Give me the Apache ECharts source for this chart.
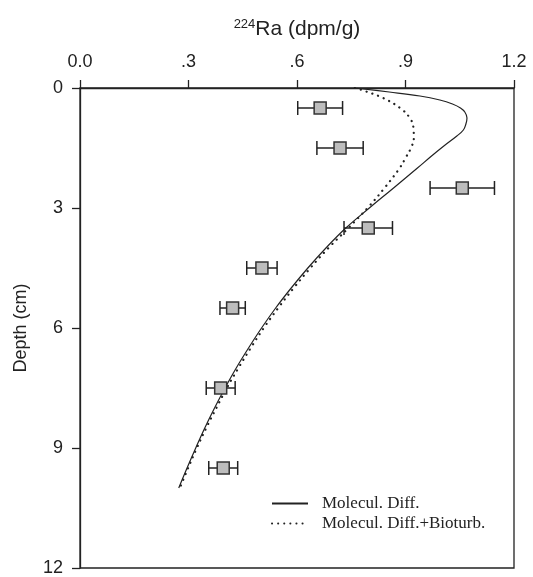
<!DOCTYPE html>
<html>
<head>
<meta charset="utf-8">
<script src="https://cdn.jsdelivr.net/npm/echarts@6/dist/echarts.min.js"></script>
<style>
  html, body { margin: 0; padding: 0; background: #fff; }
  #chart { width: 533px; height: 577px; }
</style>
</head>
<body>
<div id="chart"></div>
<script>
// measured 224Ra activity (dpm/g) at depth (cm)
var depths = [0.5, 1.5, 2.5, 3.5, 4.5, 5.5, 7.5, 9.5];
var ra224 = [0.664, 0.719, 1.057, 0.797, 0.503, 0.422, 0.389, 0.396];
var raErr = [0.062, 0.064, 0.089, 0.067, 0.042, 0.035, 0.040, 0.040];

// model curves
var diffDepth = [0, 0.1, 0.2, 0.3, 0.4, 0.5, 0.6, 0.75, 0.9, 1.05, 1.2, 1.45, 1.7, 2.0, 2.5, 3.0, 3.5, 4.0, 4.5, 5.0, 5.5, 6.0, 6.5, 7.0, 7.5, 8.0, 8.5, 9.0, 9.5, 10];
var diffVal = [0.76, 0.855, 0.94, 0.995, 1.03, 1.052, 1.064, 1.07, 1.067, 1.06, 1.042, 1.006, 0.972, 0.933, 0.867, 0.8, 0.735, 0.68, 0.63, 0.584, 0.541, 0.502, 0.466, 0.432, 0.401, 0.372, 0.345, 0.32, 0.296, 0.273];

var bioDepth = [0, 0.05, 0.25, 0.5, 0.75, 1.0, 1.25, 1.5, 1.75, 2.0, 2.5, 3.0, 3.5, 4.0, 4.5, 5.0, 5.5, 6.0, 6.5, 7.0, 7.5, 8.0, 8.5, 9.0, 9.5, 10];
var bioVal = [0.76, 0.779, 0.838, 0.885, 0.912, 0.922, 0.923, 0.915, 0.9, 0.884, 0.842, 0.795, 0.742, 0.687, 0.637, 0.591, 0.548, 0.508, 0.472, 0.438, 0.406, 0.377, 0.349, 0.323, 0.299, 0.276];

var xTicks = ['0.0', '.3', '.6', '.9', '1.2'];

function pairs(xs, ys) {
  return xs.map(function (x, i) { return [x, ys[i]]; });
}

var ink = '#222';
var chart = echarts.init(document.getElementById('chart'));

var option = {
  backgroundColor: '#fff',
  animation: false,
  grid: {
    left: 80, right: 19, top: 88, bottom: 4,
    show: true, borderColor: ink, borderWidth: 1.3
  },
  legend: {
    orient: 'vertical',
    left: 266, top: 490,
    itemWidth: 36, itemHeight: 14, itemGap: 3,
    data: ['Molecul. Diff.', 'Molecul. Diff.+Bioturb.'],
    itemStyle: { color: 'transparent', borderColor: 'transparent', borderWidth: 0, opacity: 0 },
    textStyle: { fontFamily: 'Liberation Serif', fontSize: 17, color: ink, padding: [0, 0, 0, 9] },
    selectedMode: false
  },
  xAxis: {
    type: 'value', position: 'top',
    min: 0, max: 1.2, interval: 0.3,
    name: '{sup|224}Ra (dpm/g)',
    nameLocation: 'middle', nameGap: 47,
    nameTextStyle: {
      fontFamily: 'Liberation Sans', fontSize: 21, color: ink,
      rich: { sup: { fontFamily: 'Liberation Sans', fontSize: 13, verticalAlign: 'top', padding: [0, 0, 10, 0], color: ink } }
    },
    axisLine: { lineStyle: { color: ink, width: 1.3 } },
    axisTick: { length: 8, lineStyle: { color: ink, width: 1.3 } },
    axisLabel: {
      margin: 17, fontFamily: 'Liberation Sans', fontSize: 18, color: ink,
      formatter: function (v) { return xTicks[Math.round(v / 0.3)]; }
    },
    splitLine: { show: false }
  },
  yAxis: {
    type: 'value', inverse: true,
    min: 0, max: 12, interval: 3,
    name: 'Depth (cm)',
    nameLocation: 'middle', nameGap: 50,
    nameTextStyle: { fontFamily: 'Liberation Sans', fontSize: 18, color: ink },
    axisLine: { lineStyle: { color: ink, width: 1.3 } },
    axisTick: { length: 8, lineStyle: { color: ink, width: 1.3 } },
    axisLabel: { margin: 17, fontFamily: 'Liberation Sans', fontSize: 18, color: ink },
    splitLine: { show: false }
  },
  series: [
    {
      name: 'Molecul. Diff.',
      type: 'line',
      data: pairs(diffVal, diffDepth),
      symbol: 'none', smooth: 0.4,
      lineStyle: { color: ink, width: 1.2 },
      itemStyle: { color: ink }
    },
    {
      name: 'Molecul. Diff.+Bioturb.',
      type: 'line',
      data: pairs(bioVal, bioDepth),
      symbol: 'none', smooth: 0.4,
      lineStyle: { color: ink, width: 2.2, type: [0.1, 6], cap: 'round' },
      itemStyle: { color: ink }
    },
    {
      type: 'custom',
      data: depths.map(function (d, i) { return [ra224[i], d, raErr[i]]; }),
      renderItem: function (params, api) {
        var v = api.value(0), d = api.value(1), e = api.value(2);
        var a = api.coord([v - e, d]);
        var b = api.coord([v + e, d]);
        var h = 7;
        var st = { stroke: ink, lineWidth: 1.5 };
        return {
          type: 'group',
          children: [
            { type: 'line', shape: { x1: a[0], y1: a[1], x2: b[0], y2: b[1] }, style: st },
            { type: 'line', shape: { x1: a[0], y1: a[1] - h, x2: a[0], y2: a[1] + h }, style: st },
            { type: 'line', shape: { x1: b[0], y1: b[1] - h, x2: b[0], y2: b[1] + h }, style: st }
          ]
        };
      },
      z: 3
    },
    {
      type: 'scatter',
      data: pairs(ra224, depths),
      symbol: 'rect', symbolSize: 12,
      itemStyle: { color: '#bdbdbd', borderColor: '#333', borderWidth: 1.5, opacity: 1 },
      z: 4
    }
  ]
};

chart.setOption(option);
</script>
</body>
</html>
